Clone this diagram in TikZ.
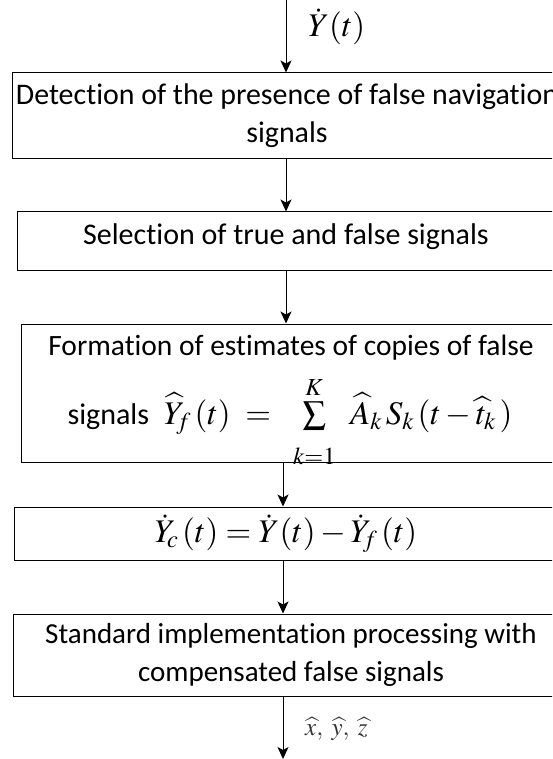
\documentclass[tikz,border=0pt]{standalone}
\usepackage{mathptmx}
\usepackage{fontspec}
\setmainfont{Carlito}[Ligatures=NoCommon]
\usetikzlibrary{arrows.meta}
\newcommand{\txtsize}{\fontsize{30}{38}\selectfont}
\newcommand{\mathsize}{\fontsize{33}{38}\selectfont}
\begin{document}
\begin{tikzpicture}[x=1pt, y=-1pt,
    >={Stealth[length=12pt,width=11pt,inset=3pt]},
    box/.style={draw, line width=1pt, inner sep=0pt},
    txt/.style={inner sep=0pt, anchor=base, font=\txtsize},
    lbl/.style={inner sep=0pt, anchor=west, font=\mathsize},
    arr/.style={->, line width=1pt}]
\useasboundingbox (0,0) rectangle (552,759);
\clip (0,0) rectangle (552,759);
% spine of the lower arrows
\coordinate (in) at (286,0);
\coordinate (out) at (283,759);
% blocks
\node[box, align=center, font=\fontsize{29.9}{38}\selectfont, minimum width=550pt, minimum height=86pt] (detect) at (287,116)
    {Detection of the presence of false navigation\\signals};
\node[box, minimum width=538pt, minimum height=58pt] (select) at (286,241) {};
\node[txt] (selecttxt) at (286,244) {Selection of true and false signals};
\node[box, minimum width=540pt, minimum height=138pt] (form) at (291,393) {};
\node[txt, font=\fontsize{29.5}{38}\selectfont] (formtxt) at (291,355) {Formation of estimates of copies of false};
\node[txt] (formeq) at (290,424) {signals\enspace\mathsize$\widehat{Y}_{\!f}\,(t) \;=\;\; \mathop{\sum}\limits^{K}_{\raisebox{-15pt}{$\scriptstyle k=1$}}\;\, \widehat{A}_k \,S_k\, (t-\widehat{t}_k\,)$};
\node[box, font=\mathsize, minimum width=544pt, minimum height=53pt] (comp) at (286,533.5)
    {$\dot{Y}_{\!c}\,(t) = \dot{Y}(t) - \dot{Y}_{\!f}\,(t)$};
\node[box, align=center, font=\fontsize{29}{38}\selectfont, minimum width=556pt, minimum height=82pt] (proc) at (291,655)
    {Standard implementation processing with\\compensated false signals};
% connectors
\draw[arr] (in) -- (in |- detect.north);
\draw[arr] (detect.south -| in) -- (select.north -| in);
\draw[arr] (select.south -| in) -- (form.north -| in);
\draw[arr] (form.south -| out) -- (comp.north -| out);
\draw[arr] (comp.south -| out) -- (proc.north -| out);
\draw[arr] (proc.south -| out) -- (out);
% signal labels
\node[lbl] (ydot) at (308,27) {$\dot{Y}(t)$};
\node[lbl, font=\fontsize{25}{30}\selectfont, text=black!80] (xyz) at (305,729) {$\widehat{x},\;\widehat{y},\;\widehat{z}$};
\end{tikzpicture}
\end{document}
